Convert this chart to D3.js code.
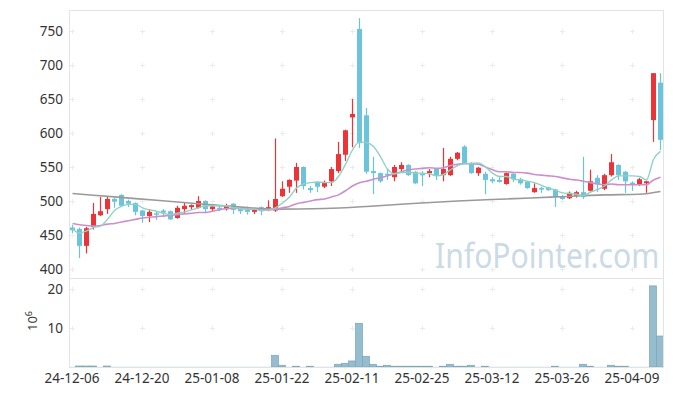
<!DOCTYPE html>
<html>
<head>
<meta charset="utf-8">
<script src="https://cdn.jsdelivr.net/npm/d3@7"></script>
<style>
body { margin: 0; background: #fff; }
svg { display: block; }
text { font-family: "Noto Sans", sans-serif; }
</style>
</head>
<body>
<div id="chart"></div>
<script>
// trading days (yy-mm-dd)
const dates = [
  "24-12-06","24-12-09","24-12-10","24-12-11","24-12-12","24-12-13","24-12-16","24-12-17","24-12-18","24-12-19",
  "24-12-20","24-12-23","24-12-24","24-12-26","24-12-27","24-12-30","25-01-02","25-01-03","25-01-06","25-01-07",
  "25-01-08","25-01-09","25-01-10","25-01-13","25-01-14","25-01-15","25-01-16","25-01-17","25-01-20","25-01-21",
  "25-01-22","25-01-23","25-01-24","25-01-31","25-02-03","25-02-04","25-02-05","25-02-06","25-02-07","25-02-10",
  "25-02-11","25-02-12","25-02-13","25-02-14","25-02-17","25-02-18","25-02-19","25-02-20","25-02-21","25-02-24",
  "25-02-25","25-02-26","25-02-27","25-02-28","25-03-04","25-03-05","25-03-06","25-03-07","25-03-10","25-03-11",
  "25-03-12","25-03-13","25-03-14","25-03-17","25-03-18","25-03-19","25-03-20","25-03-21","25-03-24","25-03-25",
  "25-03-26","25-03-27","25-03-28","25-03-31","25-04-01","25-04-02","25-04-03","25-04-04","25-04-07","25-04-08",
  "25-04-09","25-04-10","25-04-11","25-04-14","25-04-15"
];
const open = [461,459,434,462,479,488,503,509,500,497, 486,478,482,486,485,475,488,491,490,500,
  488,490,488,496,488,487,484,491,488,486, 507,521,530,550,519,528,521,529,544,568,
  623,753,626,544,541,540,535,547,553,543, 540,541,547,538,538,562,580,556,541,540,
  532,531,525,540,532,528,513,519,520,517, 506,504,508,513,515,534,518,538,553,543,
  527,524,526,619,674];
const high = [465,461,462,497,506,507,505,510,502,498, 487,488,484,488,486,493,497,495,507,501,
  494,494,496,497,491,492,490,492,501,592, 529,532,556,551,522,529,530,550,587,605,
  650,769,637,565,542,547,553,557,554,544, 544,547,548,578,565,572,582,557,550,543,
  535,537,542,541,534,529,526,521,521,518, 509,514,515,565,546,538,540,569,554,544,
  529,534,530,688,688];
const low = [453,416,423,458,478,481,490,492,491,479, 468,469,472,476,472,474,481,487,489,482,
  485,485,486,481,481,480,481,479,485,484, 506,512,512,517,512,513,519,522,541,559,
  579,578,540,510,527,531,529,543,537,525, 522,535,531,529,537,560,555,540,537,510,
  526,527,524,528,524,518,512,512,515,491, 502,503,505,503,514,513,516,536,531,512,
  515,522,512,587,575];
const close = [457,434,460,481,485,503,499,493,496,484, 478,484,481,483,473,490,493,494,500,488,
  492,489,494,487,485,484,488,485,491,503, 518,531,550,522,516,521,528,547,569,604,
  628,585,543,541,529,539,550,553,538,526, 539,544,537,547,562,571,556,541,549,531,
  529,528,541,532,526,519,519,517,516,507, 503,512,513,506,529,525,538,557,538,529,
  525,532,529,688,590];
// volume, 10^6 shares
const volume = [0.04,0.25,0.25,0.25,0.04,0.25,0.04,0.04,0.04,0.04, 0.04,0.04,0.04,0.04,0.04,0.04,0.04,0.04,0.04,0.04,
  0.04,0.04,0.04,0.04,0.04,0.04,0.04,0.04,0.04,3.0, 0.45,0.04,0.2,0.04,0.2,0.04,0.04,0.04,0.7,0.95,
  1.55,11.2,2.75,0.7,0.2,0.45,0.2,0.2,0.2,0.2, 0.2,0.2,0.04,0.2,0.7,0.2,0.2,0.45,0.04,0.2,
  0.04,0.04,0.04,0.04,0.04,0.04,0.04,0.04,0.04,0.2, 0.04,0.04,0.04,0.7,0.2,0.04,0.04,0.45,0.2,0.2,
  0.04,0.04,0.04,20.8,7.95];
// moving averages
const ma5 = [459,453,456,461,463,473,486,492,495,495, 490,487,485,482,480,482,484,487,490,493,
  493,493,493,490,489,488,488,486,487,490, 497,506,519,525,527,528,527,527,536,554,
  575,587,586,580,565,547,540,542,542,541, 541,540,537,539,546,552,555,555,556,550,
  541,536,536,532,531,529,527,523,519,516, 512,511,510,508,513,517,522,531,537,537,
  537,536,531,561,573];
const ma20 = [467,465,464,463,464,466,467,469,471,473, 475,476,477,478,479,480,481,482,483,483,
  485,487,489,489,489,488,488,487,487,488, 490,492,496,498,500,502,503,506,509,515,
  522,527,529,532,534,537,540,543,546,547, 548,549,548,549,552,554,555,555,554,550,
  546,543,543,542,542,541,539,538,537,536, 534,532,531,529,527,525,524,525,524,524,
  524,524,524,531,535];
const longIdx = [0,6,12,18,24,29,36,42,48,55,62,69,76,81,84];
const longVal = [511,506,501,496,491,488,489,492,496,500,503,506,509,510,514];

const priceTicks = [400,450,500,550,600,650,700,750];
const volTicks = [10,20];
const dateTicks = dates.filter((d, i) => i % 10 == 0);

const W = 673, H = 396;
const plotL = 69, plotR = 663, plotT = 10, plotM = 278, plotB = 367;
const red = "#ec3338", blue = "#6cc4dc";

const svg = d3.select("#chart").append("svg")
  .attr("width", W)
  .attr("height", H);

const x = d3.scaleBand().domain(dates).range([68.5, 663.5]);
const cx = d => x(d) + x.bandwidth() / 2;
const y = d3.scaleLinear().domain([400, 750]).range([269, 31]);
const yv = d3.scaleLinear().domain([0, 20]).range([plotB, 289]);

// frame
svg.append("rect")
  .attr("x", plotL + 0.5).attr("y", plotT + 0.5)
  .attr("width", plotR - plotL).attr("height", plotB - plotT)
  .attr("fill", "none").attr("stroke", "#e3e3e3");
svg.append("line")
  .attr("x1", plotL).attr("x2", plotR)
  .attr("y1", plotM + 0.5).attr("y2", plotM + 0.5)
  .attr("stroke", "#e3e3e3");

// little crosses at the grid points
const crossY = priceTicks.map(v => y(v)).concat(volTicks.map(v => yv(v)));
const crosses = svg.append("g").attr("stroke", "#ececec");
dateTicks.forEach(d => {
  crossY.forEach(yy => {
    const xx = Math.round(cx(d)) + 0.5;
    yy = Math.round(yy) + 0.5;
    crosses.append("line").attr("x1", xx - 2.5).attr("x2", xx + 2.5).attr("y1", yy).attr("y2", yy);
    crosses.append("line").attr("x1", xx).attr("x2", xx).attr("y1", yy - 2.5).attr("y2", yy + 2.5);
  });
});

// watermark (narrowed a bit to fit the reference's width)
svg.append("text")
  .attr("transform", "translate(435,268) scale(0.86,1)")
  .style("font-size", "35px")
  .style("fill", "#cadbe6")
  .text("InfoPointer.com");

// volume bars
svg.append("clipPath").attr("id", "plotclip")
  .append("rect").attr("x", plotL).attr("y", plotT).attr("width", plotR - plotL).attr("height", plotB - plotT);
svg.append("g").attr("clip-path", "url(#plotclip)")
  .selectAll("rect").data(dates).join("rect")
  .attr("x", d => x(d))
  .attr("width", x.bandwidth())
  .attr("y", (d, i) => yv(volume[i]))
  .attr("height", (d, i) => plotB - yv(volume[i]))
  .attr("fill", "#95bdce")
  .attr("stroke", (d, i) => volume[i] > 0.1 ? "#78a6bb" : "none")
  .attr("stroke-width", 0.7);

// candles
const candles = svg.append("g").selectAll("g").data(dates).join("g");
candles.append("line")
  .attr("x1", d => Math.round(cx(d)) + 0.5)
  .attr("x2", d => Math.round(cx(d)) + 0.5)
  .attr("y1", (d, i) => y(high[i]))
  .attr("y2", (d, i) => y(low[i]))
  .attr("stroke", (d, i) => close[i] >= open[i] ? red : blue)
  .attr("stroke-width", 1.2);
candles.append("rect")
  .attr("x", d => Math.round(cx(d)) - 2)
  .attr("width", 5)
  .attr("y", (d, i) => y(Math.max(open[i], close[i])))
  .attr("height", (d, i) => Math.max(1.5, Math.abs(y(open[i]) - y(close[i]))))
  .attr("fill", (d, i) => close[i] >= open[i] ? red : blue);

// moving averages
const maLine = d3.line()
  .x((v, i) => cx(dates[i]) + 0.5)
  .y(v => y(v))
  .curve(d3.curveMonotoneX);
svg.append("path")
  .datum(longVal)
  .attr("fill", "none")
  .attr("stroke", "#9a9a9a")
  .attr("stroke-width", 1.6)
  .attr("d", d3.line()
    .x((v, i) => cx(dates[longIdx[i]]) + 0.5)
    .y(v => y(v))
    .curve(d3.curveMonotoneX));
svg.append("path")
  .datum(ma20)
  .attr("fill", "none")
  .attr("stroke", "#cc8fcc")
  .attr("stroke-width", 1.6)
  .attr("d", maLine);
svg.append("path")
  .datum(ma5)
  .attr("fill", "none")
  .attr("stroke", "#8ed2c4")
  .attr("stroke-width", 1.4)
  .attr("d", maLine);

// axes
const yaxis = svg.append("g")
  .attr("transform", "translate(" + plotL + ",0)")
  .call(d3.axisLeft(y).tickValues(priceTicks).tickSize(0).tickPadding(6));
const vaxis = svg.append("g")
  .attr("transform", "translate(" + plotL + ",0)")
  .call(d3.axisLeft(yv).tickValues(volTicks).tickSize(0).tickPadding(6));
const xaxis = svg.append("g")
  .attr("transform", "translate(0," + plotB + ")")
  .call(d3.axisBottom(x).tickValues(dateTicks).tickSize(0).tickPadding(6));
[yaxis, vaxis, xaxis].forEach(g => {
  g.select(".domain").remove();
  g.selectAll("text").style("font-size", "13.5px").style("fill", "#333")
    .style("font-family", "'Noto Sans', sans-serif");
});

// unit label
const unit = svg.append("text")
  .attr("transform", "translate(37,321) rotate(-90)")
  .attr("text-anchor", "middle")
  .style("font-size", "13px")
  .style("fill", "#333");
unit.append("tspan").text("10");
unit.append("tspan").attr("dy", -5).style("font-size", "9px").text("6");
</script>
</body>
</html>
